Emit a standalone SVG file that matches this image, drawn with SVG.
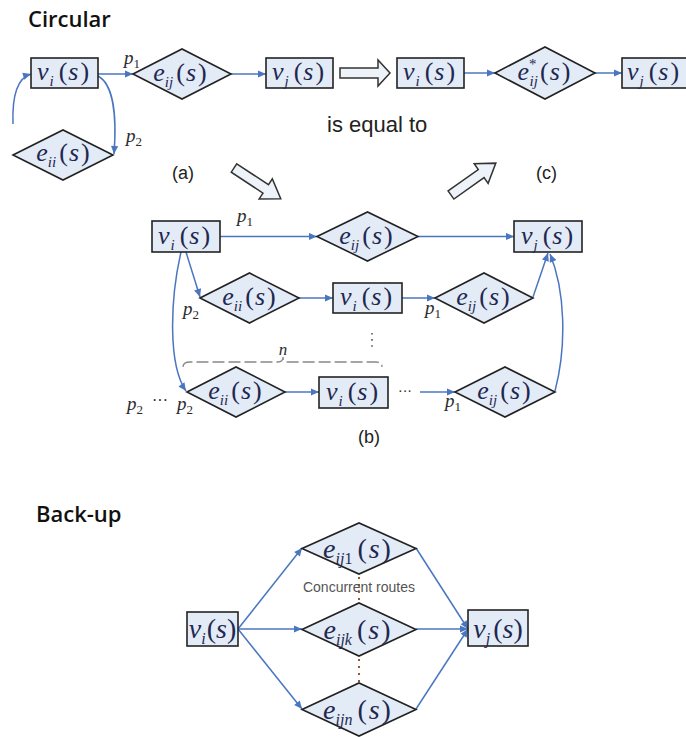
<svg xmlns="http://www.w3.org/2000/svg" width="686" height="737" viewBox="0 0 686 737">
<style>
.bg{fill:#ffffff}
.box{fill:#e3ebf6;stroke:#222;stroke-width:1.6}
.dia{fill:#e3ebf6;stroke:#222;stroke-width:1.6}
.m{font-family:"Liberation Serif","Times New Roman",serif;font-size:26px;fill:#1f2850}
.mb{font-family:"Liberation Serif","Times New Roman",serif;font-size:28px;fill:#1f2850}
.it{font-style:italic}
.sb{font-size:15px;font-style:italic}
.sbu{font-size:15px}
.p{font-family:"Liberation Serif","Times New Roman",serif;font-size:19px;font-style:italic;fill:#2b2b2b}
.ps{font-size:13px;font-style:normal}
.title{font-family:"Open Sans","DejaVu Sans",sans-serif;font-size:22px;font-weight:600;fill:#111}
.lab{font-family:"Liberation Sans",Arial,sans-serif;font-size:18px;fill:#222}
.eq{font-family:"Liberation Sans",Arial,sans-serif;font-size:22px;fill:#222}
.cr{font-family:"Liberation Sans",Arial,sans-serif;font-size:14px;fill:#555}
.con{fill:none;stroke:#4a76c0;stroke-width:1.5;marker-end:url(#ah)}
.hol{fill:#eef3fa;stroke:#333;stroke-width:1.5;stroke-linejoin:miter}
.brace{fill:none;stroke:#888;stroke-width:1.3;stroke-dasharray:12,4}
.dots{fill:none;stroke:#a0522d;stroke-width:2;stroke-dasharray:2,5}
.gdots{fill:none;stroke:#555;stroke-width:1.6;stroke-dasharray:1.6,4.5}
</style>
<defs>
<marker id="ah" viewBox="0 0 10 10" refX="10" refY="5" markerWidth="9" markerHeight="8" markerUnits="userSpaceOnUse" orient="auto">
<path d="M0,0.5 L10,5 L0,9.5 z" fill="#4a76c0"/>
</marker>
</defs>
<rect class="bg" x="0" y="0" width="686" height="737"/>

<text class="title" x="28" y="27">Circular</text>
<text class="title" x="36" y="522">Back-up</text>

<g id="connectors">
<path class="con" d="M98,74 L133,74"/>
<path class="con" d="M231,74 L266,74"/>
<path class="con" d="M98,76 C113,84 117,115 114,154"/>
<path class="con" d="M13,124 C12,96 17,78 31,74"/>
<path class="con" d="M464,73 L495,73"/>
<path class="con" d="M595,73 L622,73"/>
<path class="con" d="M220,236.5 L317,236.5"/>
<path class="con" d="M418,236.5 L514,236.5"/>
<path class="con" d="M186,252 L200,297"/>
<path class="con" d="M299,298 L333,298"/>
<path class="con" d="M402,298 L435,298"/>
<path class="con" d="M533,297 L548,253"/>
<path class="con" d="M181,252 C170,300 168,365 186,391"/>
<path class="con" d="M285,392 L319,392"/>
<path class="con" d="M420,392 L455,392"/>
<path class="con" d="M555,391 C567,345 565,290 550,254"/>
<path class="con" d="M238,629 L302,548"/>
<path class="con" d="M238,629 L302,629"/>
<path class="con" d="M238,629 L302,709"/>
<path class="con" d="M416,548 L468,629"/>
<path class="con" d="M416,629 L468,629"/>
<path class="con" d="M416,709 L468,629"/>
</g>

<g id="hollow-arrows">
<polygon class="hol" points="340,68 378,68 378,60 390,73 378,86 378,78 340,78"/>
<polygon class="hol" transform="translate(234,168) rotate(33.4)" points="0,-5 38,-5 38,-12 56,0 38,12 38,5 0,5"/>
<polygon class="hol" transform="translate(451,195) rotate(-35.4)" points="0,-5 37,-5 37,-12 55,0 37,12 37,5 0,5"/>
</g>

<g id="a-vi">
<rect class="box" x="31" y="58" width="67" height="30"/>
<text class="m" x="63" y="80" text-anchor="middle"><tspan class="it">v</tspan><tspan class="sb" dy="6" dx="1">i</tspan><tspan dy="-6" dx="5">(</tspan><tspan class="it" dx="1">s</tspan><tspan dx="2">)</tspan></text>
</g>
<g id="a-eij">
<polygon class="dia" points="133,74 182,49 231,74 182,99"/>
<text class="m" x="180" y="81" text-anchor="middle"><tspan class="it">e</tspan><tspan class="sb" dy="6">ij</tspan><tspan dy="-6" dx="3">(</tspan><tspan class="it" dx="1">s</tspan><tspan dx="2">)</tspan></text>
</g>
<g id="a-vj">
<rect class="box" x="266" y="58" width="67" height="30"/>
<text class="m" x="298" y="80" text-anchor="middle"><tspan class="it">v</tspan><tspan class="sb" dy="6" dx="1">j</tspan><tspan dy="-6" dx="5">(</tspan><tspan class="it" dx="1">s</tspan><tspan dx="2">)</tspan></text>
</g>
<g id="a-eii">
<polygon class="dia" points="13,155 63,130 113,155 63,180"/>
<text class="m" x="63" y="161" text-anchor="middle"><tspan class="it">e</tspan><tspan class="sb" dy="6">ii</tspan><tspan dy="-6" dx="3">(</tspan><tspan class="it" dx="1">s</tspan><tspan dx="2">)</tspan></text>
</g>

<g id="c-vi">
<rect class="box" x="397" y="58" width="67" height="30"/>
<text class="m" x="429" y="80" text-anchor="middle"><tspan class="it">v</tspan><tspan class="sb" dy="6" dx="1">i</tspan><tspan dy="-6" dx="5">(</tspan><tspan class="it" dx="1">s</tspan><tspan dx="2">)</tspan></text>
</g>
<g id="c-eij">
<polygon class="dia" points="495,73 545,47 595,73 545,99"/>
<text class="m" x="544" y="80" text-anchor="middle"><tspan class="it">e</tspan><tspan class="sbu" dy="-11">*</tspan><tspan class="sb" dx="-7" dy="17">ij</tspan><tspan dy="-6" dx="2">(</tspan><tspan class="it" dx="1">s</tspan><tspan dx="2">)</tspan></text>
</g>
<g id="c-vj">
<rect class="box" x="622" y="58" width="70" height="30"/>
<text class="m" x="653" y="80" text-anchor="middle"><tspan class="it">v</tspan><tspan class="sb" dy="6" dx="1">j</tspan><tspan dy="-6" dx="5">(</tspan><tspan class="it" dx="1">s</tspan><tspan dx="2">)</tspan></text>
</g>

<g id="b-vi">
<rect class="box" x="152" y="221" width="68" height="31"/>
<text class="m" x="184" y="244" text-anchor="middle"><tspan class="it">v</tspan><tspan class="sb" dy="6" dx="1">i</tspan><tspan dy="-6" dx="5">(</tspan><tspan class="it" dx="1">s</tspan><tspan dx="2">)</tspan></text>
</g>
<g id="b-eij1">
<polygon class="dia" points="317,236.5 367.5,212 418,236.5 367.5,261"/>
<text class="m" x="366" y="244" text-anchor="middle"><tspan class="it">e</tspan><tspan class="sb" dy="6">ij</tspan><tspan dy="-6" dx="3">(</tspan><tspan class="it" dx="1">s</tspan><tspan dx="2">)</tspan></text>
</g>
<g id="b-vj">
<rect class="box" x="514" y="221" width="68" height="31"/>
<text class="m" x="547" y="244" text-anchor="middle"><tspan class="it">v</tspan><tspan class="sb" dy="6" dx="1">j</tspan><tspan dy="-6" dx="5">(</tspan><tspan class="it" dx="1">s</tspan><tspan dx="2">)</tspan></text>
</g>
<g id="b-eii2">
<polygon class="dia" points="200,298 249.5,273 299,298 249.5,323"/>
<text class="m" x="249" y="305" text-anchor="middle"><tspan class="it">e</tspan><tspan class="sb" dy="6">ii</tspan><tspan dy="-6" dx="3">(</tspan><tspan class="it" dx="1">s</tspan><tspan dx="2">)</tspan></text>
</g>
<g id="b-vi2">
<rect class="box" x="333" y="283" width="69" height="30"/>
<text class="m" x="366" y="305" text-anchor="middle"><tspan class="it">v</tspan><tspan class="sb" dy="6" dx="1">i</tspan><tspan dy="-6" dx="5">(</tspan><tspan class="it" dx="1">s</tspan><tspan dx="2">)</tspan></text>
</g>
<g id="b-eij2">
<polygon class="dia" points="435,298 484,273 533,298 484,323"/>
<text class="m" x="483" y="305" text-anchor="middle"><tspan class="it">e</tspan><tspan class="sb" dy="6">ij</tspan><tspan dy="-6" dx="3">(</tspan><tspan class="it" dx="1">s</tspan><tspan dx="2">)</tspan></text>
</g>
<g id="b-eii3">
<polygon class="dia" points="187,392 236,367 285,392 236,417"/>
<text class="m" x="235" y="399" text-anchor="middle"><tspan class="it">e</tspan><tspan class="sb" dy="6">ii</tspan><tspan dy="-6" dx="3">(</tspan><tspan class="it" dx="1">s</tspan><tspan dx="2">)</tspan></text>
</g>
<g id="b-vi3">
<rect class="box" x="319" y="377" width="69" height="31"/>
<text class="m" x="352" y="400" text-anchor="middle"><tspan class="it">v</tspan><tspan class="sb" dy="6" dx="1">i</tspan><tspan dy="-6" dx="5">(</tspan><tspan class="it" dx="1">s</tspan><tspan dx="2">)</tspan></text>
</g>
<g id="b-eij3">
<polygon class="dia" points="455,392 505,367 555,392 505,417"/>
<text class="m" x="504" y="399" text-anchor="middle"><tspan class="it">e</tspan><tspan class="sb" dy="6">ij</tspan><tspan dy="-6" dx="3">(</tspan><tspan class="it" dx="1">s</tspan><tspan dx="2">)</tspan></text>
</g>

<g id="labels">
<text class="p" x="124" y="64">p<tspan class="ps" dy="4">1</tspan></text>
<text class="p" x="126" y="142">p<tspan class="ps" dy="4">2</tspan></text>
<text class="p" x="237" y="222">p<tspan class="ps" dy="4">1</tspan></text>
<text class="p" x="183" y="315">p<tspan class="ps" dy="4">2</tspan></text>
<text class="p" x="425" y="314">p<tspan class="ps" dy="4">1</tspan></text>
<text class="p" x="445" y="407">p<tspan class="ps" dy="4">1</tspan></text>
<text class="p" x="127" y="410">p<tspan class="ps" dy="4">2</tspan></text>
<text class="p" x="152" y="406" style="font-size:16px;font-style:normal">···</text>
<text class="p" x="177" y="410">p<tspan class="ps" dy="4">2</tspan></text>
<text class="p" x="283" y="355" text-anchor="middle" style="font-size:17px">n</text>
<text class="p" x="398" y="396" style="font-size:14px;font-style:normal">···</text>
<text class="lab" x="172" y="179">(a)</text>
<text class="lab" x="358" y="443">(b)</text>
<text class="lab" x="536" y="179">(c)</text>
<text class="eq" x="327" y="132">is equal to</text>
</g>

<g id="brace">
<path class="brace" d="M183,367 Q183,362 190,362 L278,362 Q283,362 283,357 Q283,362 288,362 L376,362 Q382,362 382,367"/>
<path class="gdots" d="M372,333 L372,348"/>
</g>

<g id="d-vi">
<rect class="box" x="187" y="612" width="51" height="34"/>
<text class="mb" x="212.5" y="638" text-anchor="middle"><tspan class="it">v</tspan><tspan class="sb" dy="6" style="font-size:16px">i</tspan><tspan dy="-6" dx="1">(</tspan><tspan class="it">s</tspan><tspan>)</tspan></text>
</g>
<g id="d-eij1">
<polygon class="dia" points="302,548.5 359,523 416,548.5 359,574"/>
<text class="mb" x="357" y="558" text-anchor="middle"><tspan class="it">e</tspan><tspan class="sb" dy="6" style="font-size:16px">ij</tspan><tspan dy="0" style="font-size:16px">1</tspan><tspan dy="-6" dx="5">(</tspan><tspan class="it" dx="2">s</tspan><tspan dx="2">)</tspan></text>
</g>
<g id="d-eijk">
<polygon class="dia" points="302,629.5 359,603 416,629.5 359,656"/>
<text class="mb" x="357" y="639" text-anchor="middle"><tspan class="it">e</tspan><tspan class="sb" dy="6" style="font-size:16px">ijk</tspan><tspan dy="-6" dx="5">(</tspan><tspan class="it" dx="2">s</tspan><tspan dx="2">)</tspan></text>
</g>
<g id="d-eijn">
<polygon class="dia" points="302,709.5 359,683 416,709.5 359,736"/>
<text class="mb" x="357" y="719" text-anchor="middle"><tspan class="it">e</tspan><tspan class="sb" dy="6" style="font-size:16px">ijn</tspan><tspan dy="-6" dx="5">(</tspan><tspan class="it" dx="2">s</tspan><tspan dx="2">)</tspan></text>
</g>
<g id="d-vj">
<rect class="box" x="468" y="610" width="60" height="36"/>
<text class="mb" x="498" y="638" text-anchor="middle"><tspan class="it">v</tspan><tspan class="sb" dy="6" style="font-size:16px">j</tspan><tspan dy="-6" dx="3">(</tspan><tspan class="it">s</tspan><tspan>)</tspan></text>
</g>
<g id="concurrent">
<path class="dots" d="M359,577 L359,603"/>
<path class="dots" d="M359,659 L359,683"/>
<text class="cr" x="359" y="592" text-anchor="middle">Concurrent routes</text>
</g>
</svg>
